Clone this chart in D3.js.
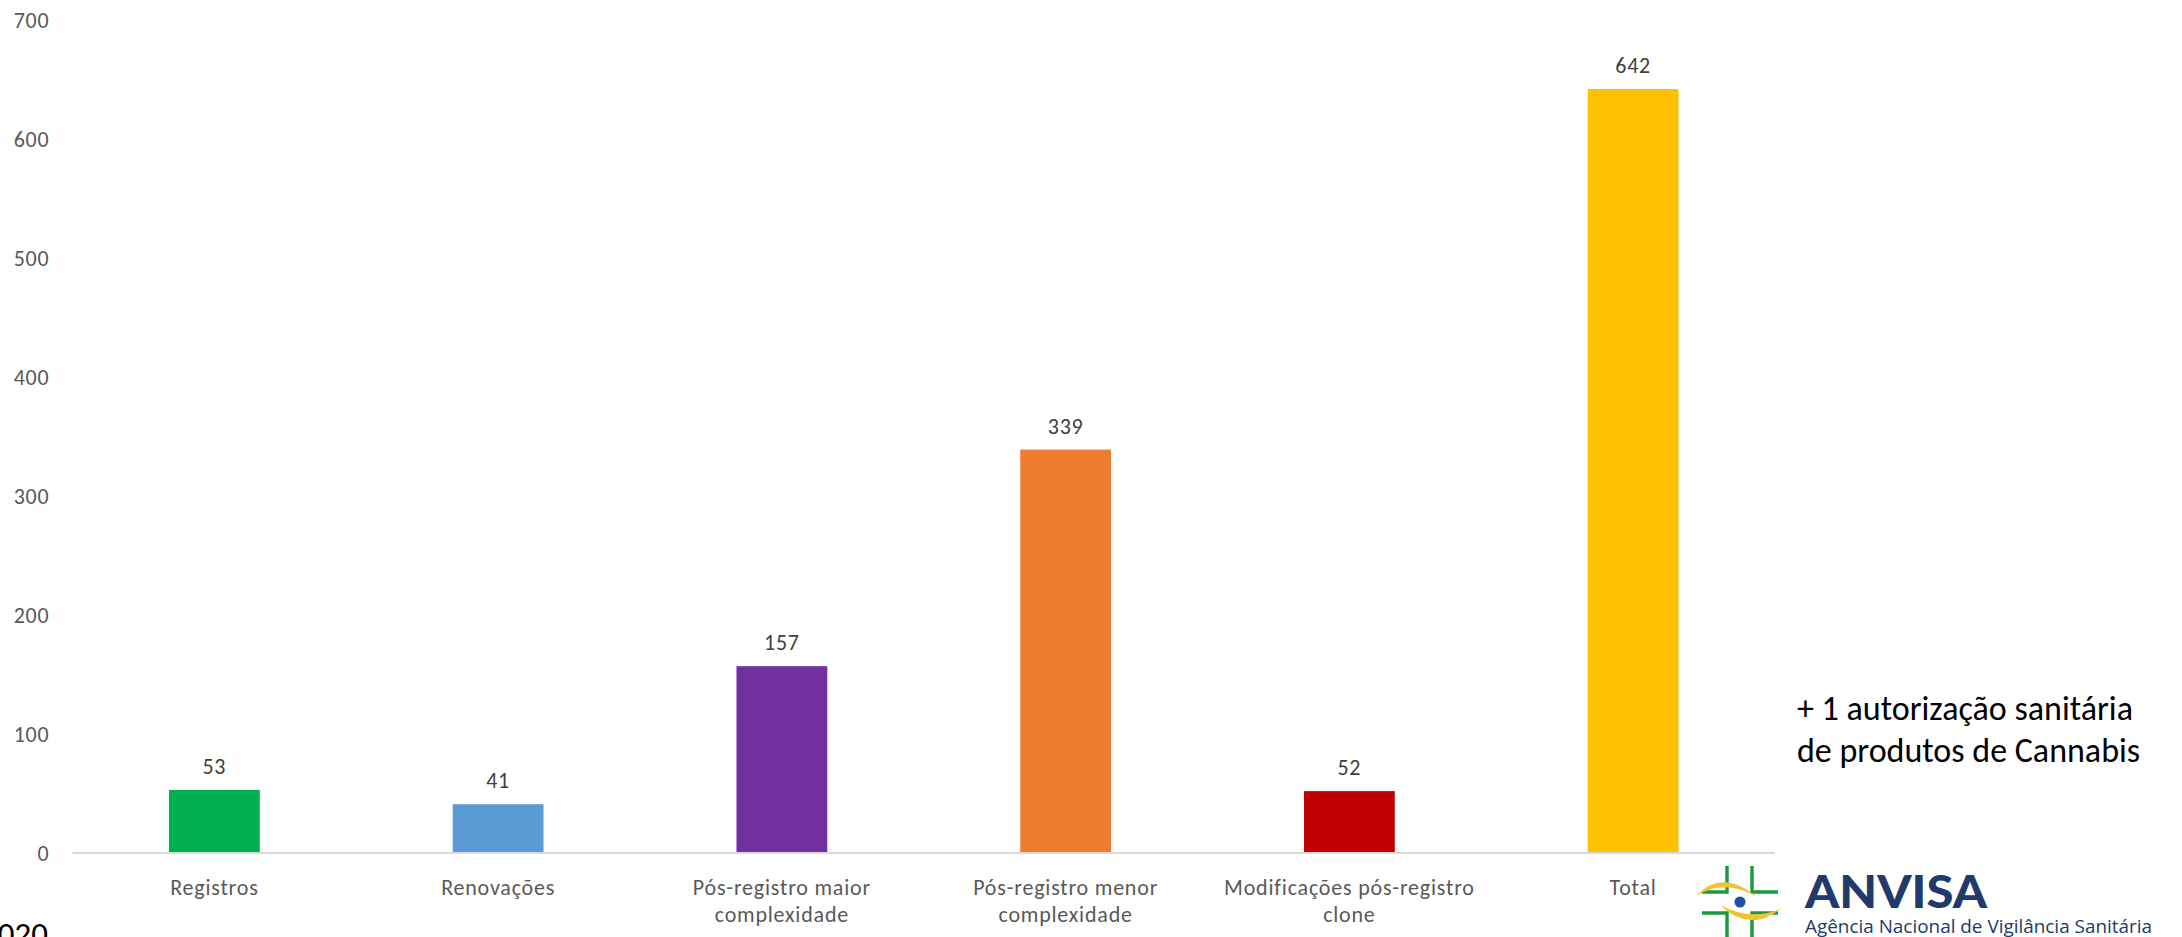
<!DOCTYPE html>
<html>
<head>
<meta charset="utf-8">
<script src="https://cdn.jsdelivr.net/npm/d3@7"></script>
<style>
  html, body { margin: 0; padding: 0; background: #ffffff; overflow: hidden; }
  svg { display: block; }
</style>
</head>
<body>
<svg id="chart" width="2182" height="937"></svg>
<script>
// ---- data ----
const categories = ["Registros", "Renovações", "Pós-registro maior complexidade", "Pós-registro menor complexidade", "Modificações pós-registro clone", "Total"];
const categoryLines = [["Registros"], ["Renovações"], ["Pós-registro maior", "complexidade"], ["Pós-registro menor", "complexidade"], ["Modificações pós-registro", "clone"], ["Total"]];
const values = [53, 41, 157, 339, 52, 642];
const barColors = ["#00B050", "#5B9BD5", "#7030A0", "#ED7D31", "#C00000", "#FFC000"];
const yTicks = [0, 100, 200, 300, 400, 500, 600, 700];
const noteLines = ["+ 1 autorização sanitária", "de produtos de Cannabis"];
const yearText = "2020";
const logoTitle = "ANVISA";
const logoSubtitle = "Agência Nacional de Vigilância Sanitária";

// ---- layout ----
const FONT = "Carlito, Calibri, Lato, 'Open Sans', sans-serif";
const svg = d3.select("#chart");
const plotLeft = 72.5, plotRight = 1775, plotTop = 20, plotBottom = 853;

const x = d3.scaleBand().domain(categories).range([plotLeft, plotRight]).paddingInner(0.68).paddingOuter(0.34);
const y = d3.scaleLinear().domain([0, 700]).range([plotBottom, plotTop]);

// y axis (labels only)
const yAxis = svg.append("g")
  .attr("transform", `translate(${plotLeft},0)`)
  .call(d3.axisLeft(y).tickValues(yTicks).tickSize(0).tickPadding(23).tickFormat(d3.format("d")));
yAxis.select(".domain").remove();
yAxis.selectAll("text")
  .attr("font-family", FONT).attr("font-size", 22).attr("letter-spacing", 0.8)
  .attr("fill", "#595959").attr("dy", "0.36em");

// bars
svg.append("g").selectAll("rect").data(values).join("rect")
  .attr("x", (d, i) => x(categories[i]))
  .attr("y", d => y(d))
  .attr("width", x.bandwidth())
  .attr("height", d => y(0) - y(d))
  .attr("fill", (d, i) => barColors[i]);

// x axis
const xAxis = svg.append("g")
  .attr("transform", `translate(0,${plotBottom})`)
  .call(d3.axisBottom(x).tickSize(0).tickFormat(""));
xAxis.select(".domain").attr("stroke", "#D9D9D9").attr("stroke-width", 2).attr("d", `M${plotLeft},0H${plotRight}`);

// category labels
const catG = svg.append("g").attr("font-family", FONT).attr("font-size", 22).attr("letter-spacing", 0.8)
  .attr("fill", "#595959").attr("text-anchor", "middle");
categories.forEach((c, i) => {
  const cx = x(c) + x.bandwidth() / 2;
  const t = catG.append("text").attr("x", cx).attr("y", plotBottom + 34);
  categoryLines[i].forEach((line, j) => {
    t.append("tspan").attr("x", cx).attr("dy", j === 0 ? "0.36em" : "27").text(line);
  });
});

// value labels
svg.append("g").selectAll("text").data(values).join("text")
  .attr("x", (d, i) => x(categories[i]) + x.bandwidth() / 2)
  .attr("y", d => y(d) - 24)
  .attr("dy", "0.36em")
  .attr("text-anchor", "middle")
  .attr("font-family", FONT).attr("font-size", 22).attr("letter-spacing", 0.8).attr("fill", "#404040")
  .text(d => d);

// side note
const note = svg.append("text").attr("font-family", FONT).attr("font-size", 34).attr("fill", "#000");
noteLines.forEach((line, j) => {
  note.append("tspan").attr("x", 1797).attr("y", 720 + j * 42).text(line);
});

// clipped year
svg.append("text").attr("x", -19).attr("y", 945).attr("font-family", FONT).attr("font-size", 33).attr("fill", "#000").text(yearText);

// ANVISA logo
const logo = svg.append("g");
const green = "#1A9A3A";
const gLines = [
  "M1727,866V892H1702", "M1752,866V892H1778",
  "M1727,937V913H1702", "M1752,937V913H1778"
];
logo.selectAll("path.cross").data(gLines).join("path").attr("class", "cross")
  .attr("d", d => d).attr("fill", "none").attr("stroke", green).attr("stroke-width", 3.4);
logo.append("path")
  .attr("d", "M1696,896 Q1722,868 1757,897 Q1724,878 1696,896 Z")
  .attr("fill", "#F2C230");
logo.append("path")
  .attr("d", "M1720,905 Q1750,934 1782,908 Q1752,922 1720,905 Z")
  .attr("fill", "#F2C230");
logo.append("circle").attr("cx", 1740).attr("cy", 902).attr("r", 5.5).attr("fill", "#1E4FA0");
logo.append("text").attr("x", 1805).attr("y", 908).attr("font-family", "Lato, 'Open Sans', sans-serif")
  .attr("font-weight", 900).attr("font-size", 45).attr("fill", "#213A6B")
  .attr("textLength", 182).attr("lengthAdjust", "spacingAndGlyphs").text(logoTitle);
logo.append("text").attr("x", 1805).attr("y", 933).attr("font-family", "'Open Sans', Lato, sans-serif")
  .attr("font-size", 18).attr("fill", "#213A6B")
  .attr("textLength", 347).attr("lengthAdjust", "spacingAndGlyphs").text(logoSubtitle);
</script>
</body>
</html>
